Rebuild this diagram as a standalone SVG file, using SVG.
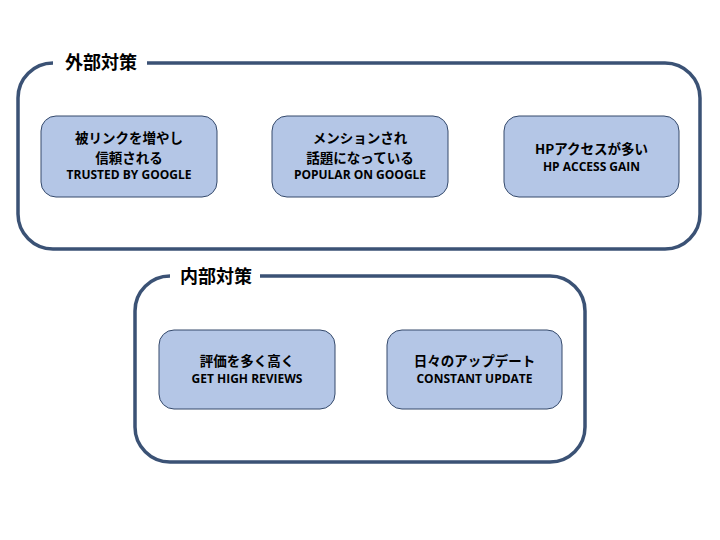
<svg xmlns="http://www.w3.org/2000/svg" width="720" height="540" viewBox="0 0 720 540">
<style>
.frame{fill:none;stroke:#3b5275;stroke-width:3.5;stroke-linecap:butt}
.node{fill:#b4c6e6;stroke:#34496b;stroke-width:1}
.ft{font-family:"Noto Sans CJK JP","Noto Sans",sans-serif;font-weight:bold;font-size:18px;fill:#000}
.jp{font-family:"Noto Sans CJK JP",sans-serif;font-weight:bold;font-size:13.5px;fill:#000;text-anchor:middle;dominant-baseline:central}
.en{font-family:"Open Sans","Noto Sans",sans-serif;font-weight:bold;font-size:12px;fill:#000;text-anchor:middle;dominant-baseline:central}
</style>
<rect width="720" height="540" fill="#ffffff"/>
<g id="frame-external">
<path class="frame" d="M147 63 H665 A35 35 0 0 1 700 98 V214 A35 35 0 0 1 665 249 H53 A35 35 0 0 1 18 214 V98 A35 35 0 0 1 53 63"/>
<text class="ft" x="65" y="69">外部対策</text>
</g>
<g id="frame-internal">
<path class="frame" d="M260 276 H550 A35 35 0 0 1 585 311 V427 A35 35 0 0 1 550 462 H170 A35 35 0 0 1 135 427 V311 A35 35 0 0 1 170 276"/>
<text class="ft" x="180" y="283">内部対策</text>
</g>
<g id="node-trusted">
<rect class="node" x="41" y="116" width="176" height="81" rx="15"/>
<text class="jp" x="129" y="137">被リンクを増やし</text>
<text class="jp" x="129" y="156.5">信頼される</text>
<text class="en" x="129" y="174">TRUSTED BY GOOGLE</text>
</g>
<g id="node-popular">
<rect class="node" x="272" y="116" width="176" height="81" rx="15"/>
<text class="jp" x="360" y="137">メンションされ</text>
<text class="jp" x="360" y="156.5">話題になっている</text>
<text class="en" x="360" y="174">POPULAR ON GOOGLE</text>
</g>
<g id="node-access">
<rect class="node" x="504" y="116" width="175" height="81" rx="15"/>
<text class="jp" x="591.5" y="148">HPアクセスが多い</text>
<text class="en" x="591.5" y="166.5">HP ACCESS GAIN</text>
</g>
<g id="node-reviews">
<rect class="node" x="159" y="330" width="176" height="79" rx="15"/>
<text class="jp" x="247" y="360">評価を多く高く</text>
<text class="en" x="247" y="378.5">GET HIGH REVIEWS</text>
</g>
<g id="node-update">
<rect class="node" x="387" y="330" width="175" height="79" rx="15"/>
<text class="jp" x="474.5" y="360">日々のアップデート</text>
<text class="en" x="474.5" y="378.5">CONSTANT UPDATE</text>
</g>
<g id="connectors"></g>
</svg>
